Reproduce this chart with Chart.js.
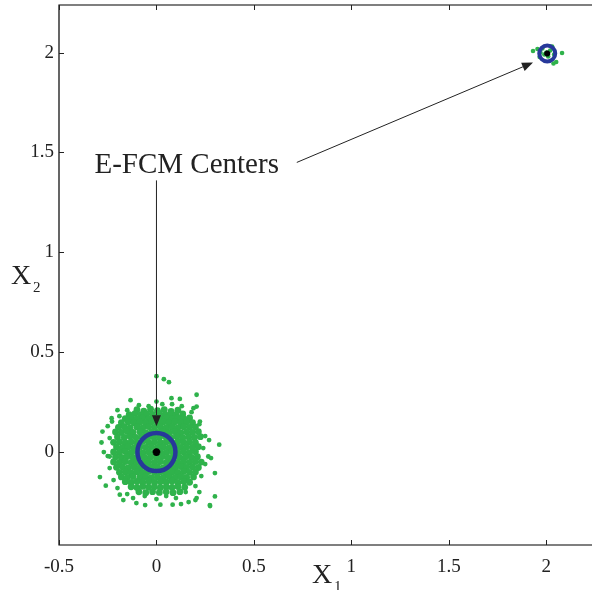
<!DOCTYPE html>
<html><head><meta charset="utf-8">
<script src="https://cdn.jsdelivr.net/npm/chart.js@4.4.1/dist/chart.umd.min.js"></script>
<style>
html,body{margin:0;padding:0;background:#fff;overflow:hidden;width:592px;height:590px;}
#wrap{width:600px;height:590px;position:relative;}
</style></head>
<body><div id="wrap"><canvas id="c" width="600" height="590"></canvas></div>
<script>
// ---------- data ----------
const xTicks = [-0.5, 0, 0.5, 1, 1.5, 2];
const yTicks = [0, 0.5, 1, 1.5, 2];
const xLabels = ['-0.5', '0', '0.5', '1', '1.5', '2'];
const yLabels = ['0', '0.5', '1', '1.5', '2'];
const xRange = [-0.5, 2.25];
const yRange = [-0.465, 2.238];

// dense cluster around (0,0)
const clusterCore = [
[-0.10,0.212],[-0.065,0.205],[-0.03,0.215],[0.005,0.208],[0.04,0.213],[0.075,0.204],[0.11,0.21],
[-0.14,0.188],[-0.11,0.193],[-0.08,0.186],[-0.05,0.192],[-0.02,0.189],[0.015,0.194],[0.045,0.187],[0.075,0.19],[0.10,0.186],[0.135,0.191],
[-0.16,0.168],[-0.13,0.172],[-0.10,0.166],[-0.07,0.171],[-0.04,0.167],[-0.01,0.173],[0.02,0.168],[0.05,0.171],[0.08,0.166],[0.11,0.172],[0.14,0.167],[0.17,0.171],
[-0.18,0.148],[-0.145,0.152],[-0.115,0.147],[-0.085,0.151],[-0.055,0.146],[-0.025,0.152],[0.005,0.148],[0.035,0.151],[0.065,0.146],[0.095,0.152],[0.125,0.147],[0.155,0.151],[0.185,0.148],
[-0.195,0.124],[-0.165,0.127],[-0.135,0.122],[-0.10,0.126],[-0.07,0.123],[-0.04,0.128],[-0.01,0.124],[0.02,0.127],[0.05,0.122],[0.08,0.126],[0.11,0.123],[0.14,0.127],[0.17,0.124],[0.20,0.126],
[-0.21,0.101],[-0.18,0.098],[-0.15,0.103],[-0.12,0.099],[-0.085,0.102],[-0.055,0.097],[-0.025,0.101],[0.005,0.098],[0.035,0.103],[0.065,0.099],[0.095,0.102],[0.125,0.097],[0.155,0.101],[0.185,0.099],[0.215,0.102],
[-0.20,0.076],[-0.165,0.073],[-0.135,0.078],[-0.105,0.074],[-0.075,0.077],[-0.045,0.072],[-0.015,0.076],[0.015,0.073],[0.045,0.078],[0.075,0.074],[0.105,0.077],[0.135,0.072],[0.165,0.076],[0.195,0.073],[0.225,0.077],
[-0.22,0.049],[-0.19,0.052],[-0.16,0.047],[-0.13,0.051],[-0.10,0.048],[-0.07,0.053],[-0.04,0.049],[-0.01,0.052],[0.02,0.047],[0.05,0.051],[0.08,0.048],[0.11,0.052],[0.14,0.049],[0.17,0.051],[0.20,0.047],
[-0.205,0.026],[-0.175,0.023],[-0.145,0.027],[-0.115,0.022],[-0.085,0.026],[-0.055,0.024],[-0.025,0.028],[0.005,0.023],[0.035,0.026],[0.065,0.022],[0.095,0.027],[0.125,0.024],[0.155,0.026],[0.185,0.023],[0.215,0.027],
[-0.22,0.001],[-0.19,-0.002],[-0.16,0.003],[-0.13,-0.001],[-0.10,0.002],[-0.07,-0.003],[-0.04,0.001],[-0.01,-0.002],[0.02,0.003],[0.05,-0.001],[0.08,0.002],[0.11,-0.002],[0.14,0.001],[0.17,-0.003],[0.20,0.002],
[-0.21,-0.024],[-0.18,-0.027],[-0.15,-0.022],[-0.12,-0.026],[-0.09,-0.023],[-0.06,-0.027],[-0.03,-0.024],[0.0,-0.026],[0.03,-0.022],[0.06,-0.027],[0.09,-0.023],[0.12,-0.026],[0.15,-0.024],[0.18,-0.027],[0.21,-0.023],
[-0.22,-0.049],[-0.19,-0.052],[-0.16,-0.047],[-0.13,-0.051],[-0.10,-0.048],[-0.07,-0.053],[-0.04,-0.049],[-0.01,-0.052],[0.02,-0.047],[0.05,-0.051],[0.08,-0.048],[0.11,-0.052],[0.14,-0.049],[0.17,-0.051],[0.20,-0.047],[0.23,-0.05],
[-0.205,-0.076],[-0.175,-0.073],[-0.145,-0.078],[-0.115,-0.074],[-0.085,-0.077],[-0.055,-0.072],[-0.025,-0.076],[0.005,-0.073],[0.035,-0.078],[0.065,-0.074],[0.095,-0.077],[0.125,-0.072],[0.155,-0.076],[0.185,-0.073],[0.215,-0.077],
[-0.19,-0.101],[-0.16,-0.098],[-0.13,-0.103],[-0.10,-0.099],[-0.07,-0.102],[-0.04,-0.097],[-0.01,-0.101],[0.02,-0.098],[0.05,-0.103],[0.08,-0.099],[0.11,-0.102],[0.14,-0.097],[0.17,-0.101],[0.20,-0.099],
[-0.18,-0.124],[-0.15,-0.127],[-0.12,-0.122],[-0.085,-0.126],[-0.055,-0.123],[-0.025,-0.128],[0.005,-0.124],[0.035,-0.127],[0.065,-0.122],[0.095,-0.126],[0.125,-0.123],[0.155,-0.127],[0.19,-0.124],
[-0.16,-0.148],[-0.13,-0.152],[-0.10,-0.147],[-0.07,-0.151],[-0.04,-0.146],[-0.01,-0.152],[0.02,-0.148],[0.05,-0.151],[0.08,-0.146],[0.11,-0.152],[0.14,-0.147],[0.17,-0.151],
[-0.13,-0.174],[-0.10,-0.177],[-0.07,-0.172],[-0.04,-0.176],[-0.01,-0.173],[0.02,-0.178],[0.05,-0.174],[0.08,-0.177],[0.11,-0.172],[0.145,-0.176],
[-0.09,-0.199],[-0.055,-0.203],[-0.02,-0.198],[0.015,-0.202],[0.05,-0.199],[0.085,-0.203],[0.12,-0.198]
];
// ragged edge and outlying points of the (0,0) cluster
const clusterEdge = [
[-0.25,0.13],[-0.24,0.07],[-0.25,-0.02],[-0.24,-0.08],[-0.22,-0.14],[-0.2,-0.18],[-0.15,-0.21],[-0.12,-0.23],
[-0.06,-0.22],[0.0,-0.235],[0.05,-0.22],[0.1,-0.23],[0.15,-0.2],[0.2,-0.17],[0.23,-0.12],[0.25,-0.06],
[0.24,0.02],[0.25,0.08],[0.22,0.14],[0.18,0.2],[0.13,0.23],[0.08,0.24],[0.03,0.24],[-0.04,0.23],
[-0.09,0.235],[-0.15,0.21],[-0.19,0.18],[-0.23,0.17],[0.27,0.06],[0.28,-0.03],[-0.27,0.0],[-0.17,-0.24],
[0.22,-0.2],[0.19,0.22],[-0.2,0.21],
[0.0,0.38],[0.038,0.365],[0.064,0.35],[-0.133,0.26],[0.0,0.253],[0.077,0.27],[0.12,0.266],[0.206,0.287],
[0.206,0.228],[-0.228,0.153],[-0.277,0.103],[-0.282,0.048],[0.322,0.037],[0.266,-0.022],[0.223,0.153],
[0.3,-0.105],[-0.29,-0.125],[-0.26,-0.168],[0.3,-0.222],[0.274,-0.265],[0.206,-0.23],[-0.188,-0.213],
[-0.24,-0.022],[-0.103,-0.255],[-0.058,-0.265],[0.02,-0.263],[0.083,-0.263],[0.126,-0.26],[0.165,-0.25],
[0.2,-0.24],[0.275,-0.27]
];
// small cluster around (2,2)
const clusterB = [
[1.932,2.008],[1.955,2.018],[1.966,1.978],[2.081,1.998],[2.051,1.953],[2.037,1.945],[2.0,2.0],
[2.02,2.01],[1.99,1.99],[2.01,1.98],[1.98,2.02],[2.03,2.03],[2.04,1.99],[1.97,2.0]
];
// E-FCM cluster centers
const centers = [[0.0, 0.0], [2.005, 1.995]];
const centerLabel = 'E-FCM Centers';

// ---------- annotation layout (data coordinates) ----------
const labelPos = {x: -0.318, y: 1.435};
const arrows = [
  {from: [0.0, 1.36], to: [0.0, 0.13]},
  {from: [0.72, 1.45], to: [1.932, 1.95]}
];

const toPts = a => a.map(p => ({x: p[0], y: p[1]}));
const GREEN = '#2fb24b';
const BLUE = '#27389a';
const FONT = '"Liberation Serif", "Times New Roman", serif';

const overlay = {
  id: 'overlay',
  beforeDatasetsDraw(chart) {
    const {ctx, chartArea: a, scales: {x, y}} = chart;
    ctx.save();
    ctx.strokeStyle = '#000';
    ctx.lineWidth = 1.2;
    ctx.beginPath();
    ctx.moveTo(a.right + 5, a.top); ctx.lineTo(a.left, a.top);
    ctx.lineTo(a.left, a.bottom); ctx.lineTo(a.right + 5, a.bottom);
    ctx.stroke();
    ctx.lineWidth = 1;
    ctx.strokeStyle = '#222';
    ctx.beginPath();
    xTicks.forEach(v => {
      const px = Math.round(x.getPixelForValue(v)) + 0.5;
      ctx.moveTo(px, a.bottom); ctx.lineTo(px, a.bottom - 5);
      ctx.moveTo(px, a.top); ctx.lineTo(px, a.top + 5);
    });
    yTicks.forEach(v => {
      const py = Math.round(y.getPixelForValue(v)) + 0.5;
      ctx.moveTo(a.left, py); ctx.lineTo(a.left + 5, py);
    });
    ctx.stroke();
    ctx.restore();
  },
  afterDatasetsDraw(chart) {
    const {ctx, scales: {x, y}} = chart;
    ctx.save();
    ctx.strokeStyle = '#222';
    ctx.fillStyle = '#222';
    ctx.lineWidth = 1;
    arrows.forEach(ar => {
      const x0 = x.getPixelForValue(ar.from[0]), y0 = y.getPixelForValue(ar.from[1]);
      const x1 = x.getPixelForValue(ar.to[0]), y1 = y.getPixelForValue(ar.to[1]);
      const ang = Math.atan2(y1 - y0, x1 - x0);
      const L = 11, W = 4.5;
      const bx = x1 - L * Math.cos(ang), by = y1 - L * Math.sin(ang);
      ctx.beginPath(); ctx.moveTo(x0, y0); ctx.lineTo(bx, by); ctx.stroke();
      ctx.beginPath();
      ctx.moveTo(x1, y1);
      ctx.lineTo(bx + W * Math.sin(ang), by - W * Math.cos(ang));
      ctx.lineTo(bx - W * Math.sin(ang), by + W * Math.cos(ang));
      ctx.closePath(); ctx.fill();
    });
    // label
    ctx.fillStyle = '#222';
    ctx.font = '29px ' + FONT;
    ctx.textBaseline = 'middle';
    ctx.textAlign = 'left';
    ctx.fillText(centerLabel, x.getPixelForValue(labelPos.x), y.getPixelForValue(labelPos.y));
    // axis titles
    ctx.textBaseline = 'alphabetic';
    ctx.font = '28px ' + FONT;
    ctx.fillText('X', 312, 583);
    ctx.font = '15px ' + FONT;
    ctx.fillText('1', 334, 591);
    ctx.font = '28px ' + FONT;
    ctx.fillText('X', 11, 284);
    ctx.font = '15px ' + FONT;
    ctx.fillText('2', 33, 292);
    ctx.restore();
  }
};

const noPad = s => { s.paddingTop = 0; s.paddingBottom = 0; s.paddingLeft = 0; s.paddingRight = 0; };

new Chart(document.getElementById('c'), {
  type: 'scatter',
  data: {
    datasets: [
      {label: 'centers', data: toPts(centers), pointStyle: 'star', pointRadius: [3.8, 3], borderColor: '#000', borderWidth: 2.5, backgroundColor: '#000'},
      {label: 'rings', data: toPts(centers), pointStyle: 'circle', pointRadius: [19, 8], borderColor: BLUE, borderWidth: [4.5, 4], backgroundColor: 'rgba(0,0,0,0)'},
      {label: 'clusterB', data: toPts(clusterB), pointRadius: 2.3, borderWidth: 0, backgroundColor: GREEN},
      {label: 'edge', data: toPts(clusterEdge), pointRadius: 2.4, borderWidth: 0, backgroundColor: GREEN},
      {label: 'core', data: toPts(clusterCore), pointRadius: 3.4, borderWidth: 0, backgroundColor: GREEN}
    ]
  },
  options: {
    responsive: false,
    animation: false,
    events: [],
    layout: {autoPadding: false, padding: {top: 5, right: 5, left: 0, bottom: 0}},
    plugins: {legend: {display: false}, tooltip: {enabled: false}},
    scales: {
      x: {
        type: 'linear', min: xRange[0], max: xRange[1],
        grid: {display: false, drawTicks: false},
        border: {display: false},
        afterBuildTicks: s => { s.ticks = xTicks.map(v => ({value: v})); },
        afterFit: s => { s.height = 45; noPad(s); },
        ticks: {
          padding: 11, color: '#222', font: {family: FONT, size: 19},
          maxRotation: 0, autoSkip: false,
          callback: (v) => xLabels[xTicks.indexOf(v)]
        }
      },
      y: {
        type: 'linear', min: yRange[0], max: yRange[1],
        grid: {display: false, drawTicks: false},
        border: {display: false},
        afterBuildTicks: s => { s.ticks = yTicks.map(v => ({value: v})); },
        afterFit: s => { s.width = 59; noPad(s); },
        ticks: {
          padding: 5, color: '#222', font: {family: FONT, size: 19},
          autoSkip: false,
          callback: (v) => yLabels[yTicks.indexOf(v)]
        }
      }
    }
  },
  plugins: [overlay]
});
</script>
</body></html>
